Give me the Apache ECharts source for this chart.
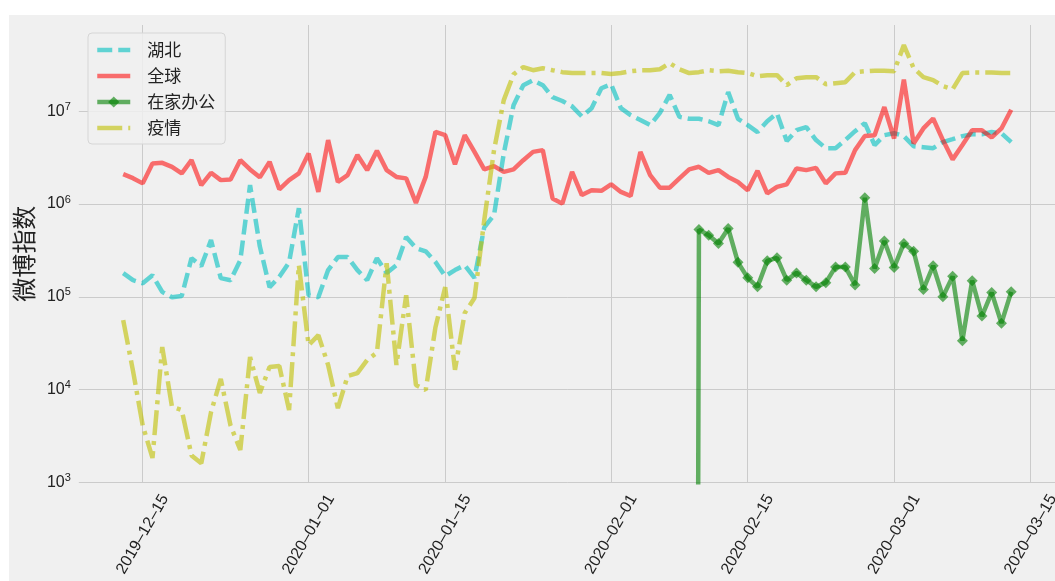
<!DOCTYPE html>
<html>
<head>
<meta charset="utf-8">
<title>微博指数</title>
<script src="https://cdn.jsdelivr.net/npm/echarts@6/dist/echarts.min.js"></script>
<style>
  html, body { margin: 0; padding: 0; background: #ffffff; width: 1055px; height: 581px; overflow: hidden; }
  #chart { position: absolute; left: 9px; top: 15px; width: 1046px; height: 566px; }
</style>
</head>
<body>
<div id="chart"></div>
<script>
// ---- data: daily Weibo index, 2019-12-13 .. 2020-03-13 ----
const START_DATE = '2019-12-13';
const DAY_COUNT = 92;

const seriesNames = ['湖北', '全球', '在家办公', '疫情'];

const hubei = [
  1.8e5, 1.51e5, 1.4e5, 1.71e5, 1.13e5, 9.9e4, 1.02e5, 2.61e5, 2.14e5, 4.08e5,
  1.59e5, 1.51e5, 2.48e5, 1.6e6, 3.5e5, 1.27e5, 1.64e5, 2.35e5, 9.0e5, 1.04e5,
  9.9e4, 1.94e5, 2.68e5, 2.68e5, 1.94e5, 1.51e5, 2.61e5, 1.8e5, 2.19e5, 4.4e5,
  3.35e5, 3.09e5, 2.37e5, 1.67e5, 1.94e5, 2.19e5, 1.6e5, 5.6e5, 7.6e5, 3.5e6,
  1.16e7, 1.91e7, 2.16e7, 1.91e7, 1.42e7, 1.29e7, 1.13e7, 8.8e6, 1.08e7, 1.77e7,
  1.96e7, 1.08e7, 9.1e6, 8.05e6, 7.1e6, 9.6e6, 1.5e7, 8.7e6, 8.3e6, 8.3e6,
  7.8e6, 7.1e6, 1.61e7, 8.3e6, 7.1e6, 5.97e6, 7.8e6, 9.5e6, 4.77e6, 6.26e6,
  6.75e6, 4.89e6, 4.0e6, 4.0e6, 4.89e6, 6.1e6, 7.45e6, 4.32e6, 5.52e6, 5.8e6,
  5.4e6, 4.2e6, 4.1e6, 4.0e6, 4.65e6, 5.0e6, 5.4e6, 5.66e6, 5.66e6, 5.97e6,
  5.8e6, 4.65e6
];

const worldwide = [
  2.1e6, 1.9e6, 1.67e6, 2.74e6, 2.78e6, 2.52e6, 2.14e6, 2.97e6, 1.6e6, 2.17e6,
  1.81e6, 1.84e6, 2.97e6, 2.36e6, 1.94e6, 2.85e6, 1.44e6, 1.81e6, 2.14e6, 3.51e6,
  1.35e6, 4.89e6, 1.73e6, 2.05e6, 3.37e6, 2.32e6, 3.74e6, 2.32e6, 1.96e6, 1.89e6,
  1.03e6, 1.96e6, 6.0e6, 5.52e6, 2.69e6, 5.52e6, 3.65e6, 2.36e6, 2.56e6, 2.22e6,
  2.36e6, 2.97e6, 3.65e6, 3.81e6, 1.15e6, 1.01e6, 2.22e6, 1.25e6, 1.41e6, 1.39e6,
  1.63e6, 1.35e6, 1.22e6, 3.65e6, 2.05e6, 1.5e6, 1.5e6, 1.89e6, 2.36e6, 2.52e6,
  2.17e6, 2.32e6, 1.96e6, 1.73e6, 1.41e6, 2.28e6, 1.3e6, 1.53e6, 1.63e6, 2.42e6,
  2.32e6, 2.45e6, 1.67e6, 2.14e6, 2.17e6, 3.81e6, 5.4e6, 5.52e6, 1.11e7, 5.09e6,
  2.2e7, 4.5e6, 6.53e6, 8.36e6, 4.89e6, 3.03e6, 4.32e6, 6.25e6, 6.25e6, 5.22e6,
  6.53e6, 1.04e7
];

const workFromHome = [
  0, 0, 0, 0, 0, 0, 0, 0, 0, 0,
  0, 0, 0, 0, 0, 0, 0, 0, 0, 0,
  0, 0, 0, 0, 0, 0, 0, 0, 0, 0,
  0, 0, 0, 0, 0, 0, 0, 0, 0, 0,
  0, 0, 0, 0, 0, 0, 0, 0, 0, 0,
  0, 0, 0, 0, 0, 0, 0, 0, 0, 5.3e5,
  4.6e5, 3.76e5, 5.46e5, 2.35e5, 1.6e5, 1.28e5, 2.44e5, 2.63e5, 1.51e5, 1.81e5,
  1.51e5, 1.28e5, 1.42e5, 2.1e5, 2.1e5, 1.34e5, 1.17e6, 2.02e5, 4.0e5, 2.07e5,
  3.76e5, 3.1e5, 1.2e5, 2.16e5, 1.0e5, 1.66e5, 3.36e4, 1.49e5, 6.2e4, 1.11e5,
  5.2e4, 1.13e5
];

const epidemic = [
  5.6e4, 1.6e4, 4.1e3, 1.83e3, 2.87e4, 6.5e3, 6.0e3, 1.95e3, 1.6e3, 5.7e3,
  1.3e4, 4.1e3, 2.23e3, 2.24e4, 9.2e3, 1.75e4, 1.79e4, 6.0e3, 2.2e5, 3.0e4,
  3.86e4, 1.84e4, 6.3e3, 1.4e4, 1.5e4, 2.08e4, 2.5e4, 2.3e5, 1.84e4, 1.04e5,
  1.12e4, 9.9e3, 4.7e4, 1.27e5, 1.63e4, 6.7e4, 9.7e4, 6.7e5, 3.8e6, 1.32e7,
  2.5e7, 2.99e7, 2.77e7, 2.91e7, 2.77e7, 2.64e7, 2.58e7, 2.58e7, 2.58e7, 2.58e7,
  2.52e7, 2.58e7, 2.7e7, 2.77e7, 2.77e7, 2.84e7, 3.3e7, 2.84e7, 2.58e7, 2.64e7,
  2.77e7, 2.7e7, 2.74e7, 2.64e7, 2.58e7, 2.38e7, 2.45e7, 2.45e7, 1.91e7, 2.27e7,
  2.33e7, 2.33e7, 1.96e7, 2.01e7, 2.06e7, 2.64e7, 2.7e7, 2.74e7, 2.74e7, 2.7e7,
  5.16e7, 2.92e7, 2.33e7, 2.17e7, 1.87e7, 1.73e7, 2.58e7, 2.61e7, 2.61e7, 2.61e7,
  2.58e7, 2.58e7
];

const xTickDates = ['2019-12-15', '2020-01-01', '2020-01-15', '2020-02-01', '2020-02-15', '2020-03-01', '2020-03-15'];
const yTickValues = [1e3, 1e4, 1e5, 1e6, 1e7];
const yAxisTitle = '微博指数';

// ---- helpers ----
function parseDay(s) {
  const [y, m, d] = s.split('-').map(Number);
  return new Date(y, m - 1, d).getTime();
}
function dayList(start, n) {
  const [y, m, d] = start.split('-').map(Number);
  const out = [];
  for (let i = 0; i < n; i++) out.push(new Date(y, m - 1, d + i).getTime());
  return out;
}
function fmtDate(ts) {
  const d = new Date(ts);
  const p = v => String(v).padStart(2, '0');
  return d.getFullYear() + '\u2013' + p(d.getMonth() + 1) + '\u2013' + p(d.getDate());
}

const days = dayList(START_DATE, DAY_COUNT);
// zero counts cannot sit on a log scale; push them far below the visible range
const LOG_FLOOR = 1e-30;
function toPoints(values) {
  return values.map((v, i) => v > 0
    ? [days[i], v]
    : { value: [days[i], LOG_FLOOR], symbol: 'none' });
}

// 5% padding on each side of the date range
const span = days[days.length - 1] - days[0];
const xMin = days[0] - 0.05 * span;
const xMax = days[days.length - 1] + 0.05 * span;
const yMax = Math.pow(10, 7.93);
const xTicks = xTickDates.map(parseDay);

const LATIN = "'Liberation Sans', Arial, 'Noto Sans CJK SC', sans-serif";
const CJK = "'Noto Sans CJK SC', 'Liberation Sans', sans-serif";
const GRID_COLOR = '#cbcbcb';
const TEXT_COLOR = '#222222';
const LINE_W = 4.5;

const colors = {
  hubei: 'rgba(0,191,191,0.6)',
  worldwide: 'rgba(255,0,0,0.55)',
  wfh: 'rgba(0,128,0,0.6)',
  epidemic: 'rgba(191,191,0,0.6)'
};
const dashes = {
  hubei: [15, 6],
  epidemic: [25, 6, 4, 6]
};

// legend entries: plain line samples, the work-from-home entry keeps its diamond
const legendItems = seriesNames.map((name, i) => (i === 2
  ? { name: name }
  : { name: name, itemStyle: { opacity: 0 } }));

const chart = echarts.init(document.getElementById('chart'), null, { renderer: 'canvas' });

chart.setOption({
  animation: false,
  backgroundColor: '#f0f0f0',
  grid: { left: 69.8, right: -0.6, top: 10, bottom: 98.7, outerBoundsMode: 'none', containLabel: false },
  legend: {
    data: legendItems,
    orient: 'vertical',
    left: 79,
    top: 18,
    itemWidth: 33,
    itemHeight: 14,
    itemGap: 6,
    padding: [7, 10, 6, 7],
    backgroundColor: 'rgba(240,240,240,0.85)',
    borderColor: '#d6d6d6',
    borderWidth: 1,
    borderRadius: 4,
    lineStyle: { width: LINE_W },
    textStyle: { fontSize: 17, lineHeight: 20, color: TEXT_COLOR, fontFamily: CJK, padding: [0, 0, 0, 12] }
  },
  xAxis: {
    // dates as millisecond timestamps on a numeric axis
    type: 'value',
    min: xMin,
    max: xMax,
    axisLine: { show: false },
    axisTick: { show: false, customValues: xTicks },
    splitLine: { show: true, lineStyle: { color: GRID_COLOR, width: 1 } },
    axisLabel: {
      customValues: xTicks,
      formatter: v => fmtDate(v),
      rotate: 60,
      align: 'center',
      verticalAlign: 'middle',
      margin: 52,
      fontSize: 16,
      color: TEXT_COLOR,
      fontFamily: LATIN
    }
  },
  yAxis: {
    type: 'log',
    logBase: 10,
    min: 1e3,
    max: yMax,
    name: yAxisTitle,
    nameLocation: 'middle',
    nameGap: 34,
    nameTextStyle: { fontSize: 24, color: TEXT_COLOR, fontFamily: CJK },
    axisLine: { show: false },
    axisTick: { show: false, customValues: yTickValues },
    splitLine: { show: true, lineStyle: { color: GRID_COLOR, width: 1 } },
    axisLabel: {
      customValues: yTickValues,
      margin: 8,
      formatter: v => '{b|10}{s|' + Math.round(Math.log10(v)) + '}',
      rich: {
        b: { fontSize: 16, color: TEXT_COLOR, fontFamily: LATIN },
        s: { fontSize: 11, color: TEXT_COLOR, fontFamily: LATIN, padding: [0, 0, 9, 0] }
      }
    }
  },
  series: [
    {
      name: seriesNames[0], type: 'line', data: toPoints(hubei),
      symbol: 'none', z: 2,
      lineStyle: { color: colors.hubei, width: LINE_W, type: dashes.hubei },
      itemStyle: { color: colors.hubei }
    },
    {
      name: seriesNames[1], type: 'line', data: toPoints(worldwide),
      symbol: 'none', z: 3,
      lineStyle: { color: colors.worldwide, width: LINE_W },
      itemStyle: { color: colors.worldwide }
    },
    {
      name: seriesNames[2], type: 'line', data: toPoints(workFromHome),
      symbol: 'diamond', symbolSize: 11, z: 4,
      lineStyle: { color: colors.wfh, width: LINE_W },
      itemStyle: { color: colors.wfh }
    },
    {
      name: seriesNames[3], type: 'line', data: toPoints(epidemic),
      symbol: 'none', z: 5,
      lineStyle: { color: colors.epidemic, width: LINE_W, type: dashes.epidemic },
      itemStyle: { color: colors.epidemic }
    }
  ]
});
</script>
</body>
</html>
